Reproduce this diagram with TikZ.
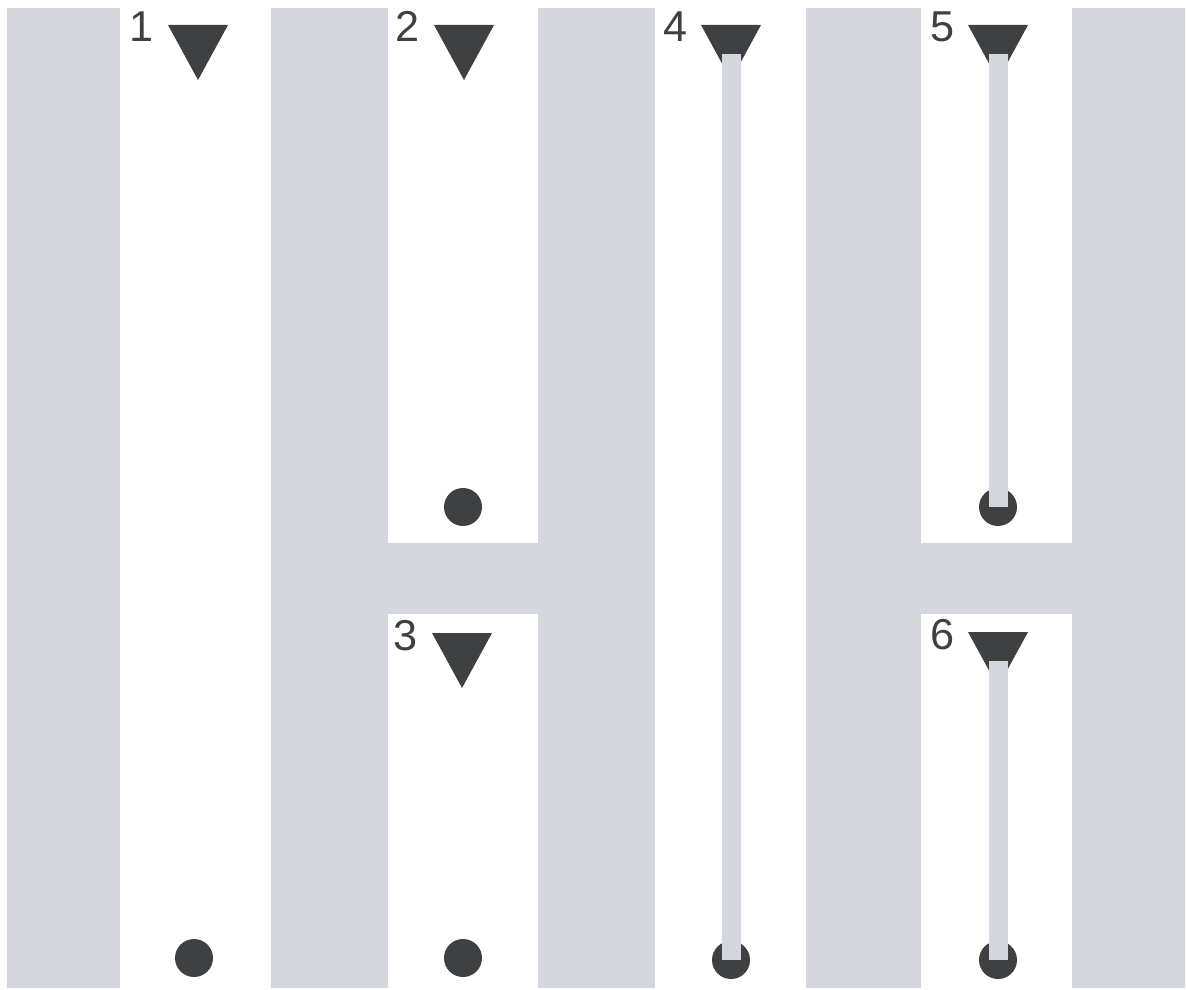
\documentclass[tikz,border=0pt]{standalone}
\usepackage{fontspec}
\setmainfont{Liberation Sans}
\usepackage{tikz}
\usetikzlibrary{calc}
\definecolor{bargray}{RGB}{212,215,222}
\definecolor{markdark}{RGB}{62,64,66}

\begin{document}
\begin{tikzpicture}[x=0.5pt,y=-0.5pt,
  bar/.style={fill=bargray},
  stem/.style={fill=bargray},
  wedge/.style={fill=markdark},
  dot/.style={circle,fill=markdark,inner sep=0pt,minimum size=19pt},
  num/.style={font=\fontsize{21.6}{26}\selectfont,text=markdark,anchor=base}]
  \useasboundingbox (0,0) rectangle (1186,989);
  % grey bars
  \fill[bar] (7,8) rectangle (120,988);
  \fill[bar] (271,8) rectangle (388,988);
  \fill[bar] (538,8) rectangle (655,988);
  \fill[bar] (806,8) rectangle (921,988);
  \fill[bar] (1072,8) rectangle (1185,988);
  % cross pieces
  \fill[bar] (388,543) rectangle (538,614);
  \fill[bar] (921,543) rectangle (1072,614);
  % triangles with numbers
  \foreach \n/\x/\y in {1/198/25, 2/464/25, 3/462/633, 4/731/25, 5/998/25, 6/998/632} {
    \coordinate (t\n) at (\x,\y);
    \fill[wedge] ($(t\n)+(-30,0)$) -- ($(t\n)+(30,0)$) -- ($(t\n)+(0,55)$) -- cycle;
    \node[num] (l\n) at ($(t\n)+(-56,17)$) {\n};
  }
  % dots
  \foreach \n/\x/\y in {1/194/958, 2/463/507, 3/463/958, 4/731/960, 5/998/507, 6/998/960}
    \node[dot] (c\n) at (\x,\y) {};
  % stems
  \foreach \n in {4,5,6}
    \fill[stem] ($(t\n)+(-9.5,29)$) rectangle ($(c\n)+(9.5,0)$);
\end{tikzpicture}
\end{document}
